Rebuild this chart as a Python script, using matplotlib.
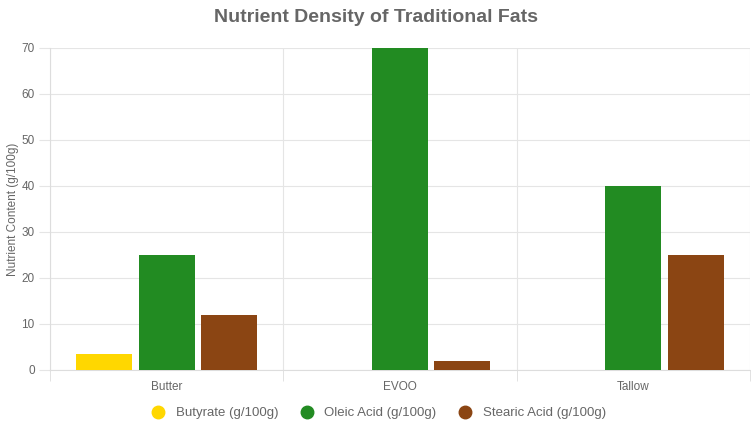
import matplotlib.pyplot as plt
import numpy as np
from matplotlib.lines import Line2D

categories = ["Butter", "EVOO", "Tallow"]
series_names = ["Butyrate (g/100g)", "Oleic Acid (g/100g)", "Stearic Acid (g/100g)"]
butyrate = [3.5, 0, 0]
oleic = [25, 70, 40]
stearic = [12, 2, 25]
colors = ["#FFD700", "#228B22", "#8B4513"]

plt.rcParams["font.family"] = ["Liberation Sans", "DejaVu Sans"]

fig = plt.figure(figsize=(7.51, 4.33), dpi=100)
ax = fig.add_axes([50 / 751, 63 / 433, 700 / 751, 322 / 433])

x = np.arange(len(categories))
slot = 0.8 / 3
width = slot * 0.9
for i, (vals, col) in enumerate(zip([butyrate, oleic, stearic], colors)):
    ax.bar(x + (i - 1) * slot, vals, width=width, color=col, zorder=3)

ax.set_xlim(-0.5, 2.5)
ax.set_ylim(0, 70)
ax.set_yticks(range(0, 71, 10))
ax.set_xticks(x)
ax.set_xticklabels(categories)
ax.set_xticks([-0.5, 0.5, 1.5, 2.5], minor=True)

ax.grid(axis="y", color="#e5e5e5", linewidth=0.8, zorder=0)
ax.grid(axis="x", which="minor", color="#e5e5e5", linewidth=0.8, zorder=0)
ax.tick_params(axis="x", which="major", length=0, pad=8, labelsize=8.5, labelcolor="#666666")
ax.tick_params(axis="x", which="minor", length=8, color="#dddddd")
ax.tick_params(axis="y", length=8, color="#e5e5e5", labelsize=8.5, labelcolor="#666666", pad=3)

for s in ["top", "right"]:
    ax.spines[s].set_visible(False)
ax.spines["left"].set_color("#dddddd")
ax.spines["bottom"].set_color("#dddddd")

ax.set_ylabel("Nutrient Content (g/100g)", fontsize=8.5, color="#666666", labelpad=2)
fig.text(0.5, 1 - 18 / 433, "Nutrient Density of Traditional Fats", ha="center", va="center",
         fontsize=14, fontweight="bold", color="#666666")

handles = [Line2D([], [], marker="o", linestyle="", markersize=9, markerfacecolor=c,
                  markeredgecolor=c) for c in colors]
fig.legend(handles, series_names, loc="center", bbox_to_anchor=(0.5, 1 - 413 / 433), ncol=3,
           frameon=False, fontsize=9.5, labelcolor="#666666", handletextpad=0.3, columnspacing=1.2)

fig.savefig("out.png", dpi=100)
